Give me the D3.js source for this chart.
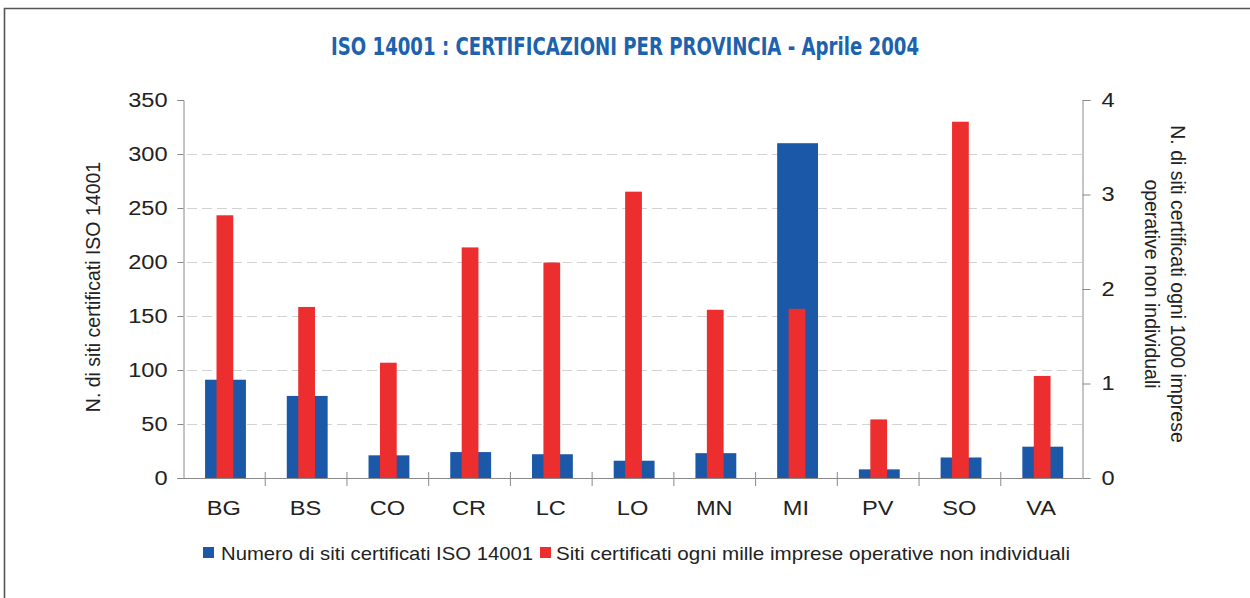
<!DOCTYPE html>
<html>
<head>
<meta charset="utf-8" />
<title>ISO 14001</title>
<script src="https://cdn.jsdelivr.net/npm/d3@7"></script>
<style>
  body { margin: 0; background: #fff; }
  svg { display: block; font-family: "Liberation Sans", Arial, sans-serif; }
</style>
</head>
<body>
<script>
// data
var province = ["BG", "BS", "CO", "CR", "LC", "LO", "MN", "MI", "PV", "SO", "VA"];
var numSiti = [91, 76, 21, 24, 22, 16, 23, 310, 8, 19, 29];
var sitiPerMille = [2.78, 1.81, 1.22, 2.44, 2.28, 3.03, 1.78, 1.79, 0.62, 3.77, 1.08];
var leftTicks = [0, 50, 100, 150, 200, 250, 300, 350];
var rightTicks = [0, 1, 2, 3, 4];
var seriesNames = ["Numero di siti certificati ISO 14001", "Siti certificati ogni mille imprese operative non individuali"];

var W = 1250, H = 598;
var blue = "#1c58a8", red = "#ec2e2f";
var plotL = 183, plotR = 1082, plotT = 100, plotB = 478;

var svg = d3.select("body").append("svg").attr("width", W).attr("height", H);

// the original text looks a bit stretched sideways
function widen(sel, k) {
  sel.each(function () {
    var w = this.getComputedTextLength();
    d3.select(this).attr("textLength", w * k).attr("lengthAdjust", "spacingAndGlyphs");
  });
}

// outer frame
svg.append("path").attr("d", "M4.5,600 L4.5,8.5 L1252,8.5")
  .attr("fill", "none").attr("stroke", "#555").attr("stroke-width", 1.6);

// title
svg.append("text")
  .attr("x", 625).attr("y", 55)
  .attr("text-anchor", "middle")
  .attr("font-family", "'DejaVu Sans Condensed', 'DejaVu Sans', sans-serif")
  .attr("font-weight", "bold").attr("font-size", 24)
  .attr("textLength", 588).attr("lengthAdjust", "spacingAndGlyphs")
  .attr("fill", "#1d62ad")
  .text("ISO 14001 : CERTIFICAZIONI PER PROVINCIA - Aprile 2004");

var x = d3.scaleBand().domain(province).range([plotL, plotR]).padding(0);
var yL = d3.scaleLinear().domain([0, 350]).range([plotB, plotT]);
var yR = d3.scaleLinear().domain([0, 4]).range([plotB, plotT]);

// dashed gridlines
svg.append("g").selectAll("line")
  .data(leftTicks.filter(function (d) { return d > 0 && d < 350; }))
  .enter().append("line")
  .attr("x1", plotL + 4).attr("x2", plotR)
  .attr("y1", function (d) { return yL(d) + 0.5; })
  .attr("y2", function (d) { return yL(d) + 0.5; })
  .attr("stroke", "#d2d2d2").attr("stroke-width", 1.2)
  .attr("stroke-dasharray", "10,5");

// blue bars (left axis)
var bw = x.bandwidth();
svg.append("g").selectAll("rect")
  .data(numSiti)
  .enter().append("rect")
  .attr("x", function (d, i) { return x(province[i]) + bw * 0.27; })
  .attr("width", bw * 0.5)
  .attr("y", function (d) { return yL(d); })
  .attr("height", function (d) { return yL(0) - yL(d); })
  .attr("fill", blue);

// red bars (right axis)
svg.append("g").selectAll("rect")
  .data(sitiPerMille)
  .enter().append("rect")
  .attr("x", function (d, i) { return x(province[i]) + bw * 0.41; })
  .attr("width", bw * 0.205)
  .attr("y", function (d) { return yR(d); })
  .attr("height", function (d) { return yR(0) - yR(d); })
  .attr("fill", red);

// axes
var axisCol = "#8a8a8a";
var gL = svg.append("g").attr("transform", "translate(" + (plotL + 0.5) + ",0)")
  .call(d3.axisLeft(yL).tickValues(leftTicks).tickSize(6).tickPadding(10));
var gR = svg.append("g").attr("transform", "translate(" + (plotR + 0.5) + ",0)")
  .call(d3.axisRight(yR).tickValues(rightTicks).tickFormat(d3.format("d")).tickSize(8).tickPadding(11));
var gX = svg.append("g").attr("transform", "translate(0," + (plotB + 0.5) + ")")
  .call(d3.axisBottom(x).tickSize(0).tickPadding(22));

[gL, gR, gX].forEach(function (g) {
  g.select(".domain").attr("stroke", axisCol);
  g.selectAll(".tick line").attr("stroke", axisCol);
  g.selectAll(".tick text").attr("fill", "#222").attr("font-size", 20)
    .attr("font-family", "'Liberation Sans', Arial, sans-serif")
    .call(widen, 1.18);
});
gX.select(".domain").attr("d", "M" + plotL + ",0H" + plotR);

// category separator ticks on x axis
svg.append("g").selectAll("line")
  .data(province.slice(1))
  .enter().append("line")
  .attr("x1", function (d) { return x(d) + 0.5; })
  .attr("x2", function (d) { return x(d) + 0.5; })
  .attr("y1", plotB - 6).attr("y2", plotB + 8)
  .attr("stroke", axisCol);

// axis titles
svg.append("text")
  .attr("transform", "translate(100,287) rotate(-90)")
  .attr("text-anchor", "middle").attr("font-size", 19.5).attr("fill", "#222")
  .text("N. di siti certificati ISO 14001");

var rt = svg.append("text")
  .attr("transform", "translate(1171,284) rotate(90)")
  .attr("text-anchor", "middle").attr("font-size", 19.5).attr("fill", "#222");
rt.append("tspan").attr("x", 0).attr("dy", 0).text("N. di siti certificati ogni 1000 imprese");
rt.append("tspan").attr("x", 0).attr("dy", 26).text("operative non individuali");

// legend
var leg = svg.append("g").attr("transform", "translate(203,553)");
leg.append("rect").attr("x", 0).attr("y", -6).attr("width", 11).attr("height", 11).attr("fill", blue);
leg.append("text").attr("x", 18).attr("y", 7).attr("font-size", 19)
  .attr("textLength", 312).attr("lengthAdjust", "spacingAndGlyphs")
  .attr("fill", "#222").text(seriesNames[0]);
leg.append("rect").attr("x", 337).attr("y", -6).attr("width", 11).attr("height", 11).attr("fill", red);
leg.append("text").attr("x", 353).attr("y", 7).attr("font-size", 19)
  .attr("textLength", 514).attr("lengthAdjust", "spacingAndGlyphs")
  .attr("fill", "#222").text(seriesNames[1]);
</script>
</body>
</html>
